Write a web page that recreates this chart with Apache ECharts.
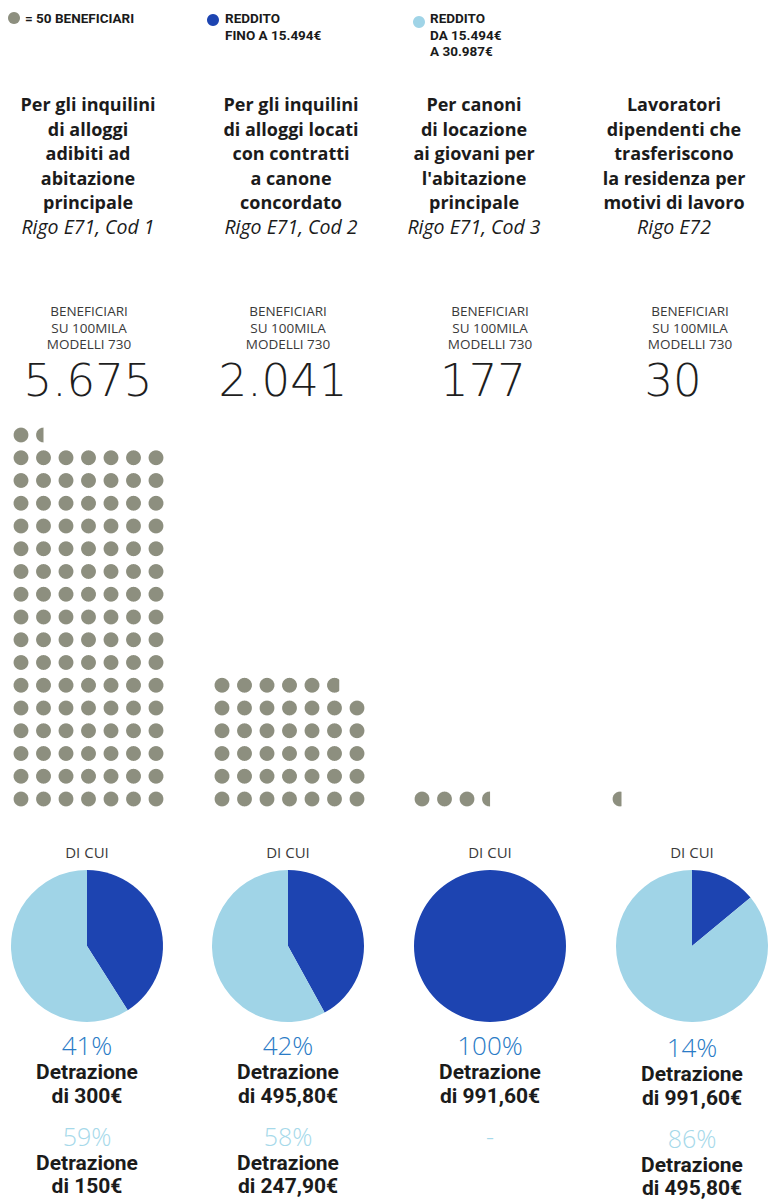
<!DOCTYPE html>
<html>
<head>
<meta charset="utf-8">
<script src="https://cdn.jsdelivr.net/npm/echarts@6/dist/echarts.min.js"></script>
<style>
html,body{margin:0;padding:0;background:#fff;}
#chart{width:770px;height:1199px;}
</style>
</head>
<body>
<div id="chart"></div>
<script>
// ---------------- DATA ----------------
const titleLines = [
  ['Per gli inquilini', 'di alloggi', 'adibiti ad', 'abitazione', 'principale'],
  ['Per gli inquilini', 'di alloggi locati', 'con contratti', 'a canone', 'concordato'],
  ['Per canoni', 'di locazione', 'ai giovani per', "l'abitazione", 'principale'],
  ['Lavoratori', 'dipendenti che', 'trasferiscono', 'la residenza per', 'motivi di lavoro']
];
const rigoLabels = ['Rigo E71, Cod 1', 'Rigo E71, Cod 2', 'Rigo E71, Cod 3', 'Rigo E72'];
const beneficiaries = [5675, 2041, 177, 30];
const beneficiariesText = ['5.675', '2.041', '177', '30'];
const lowIncomeShare = [41, 42, 100, 14];
const midIncomeShare = [59, 58, 0, 86];
const lowPctText = ['41%', '42%', '100%', '14%'];
const midPctText = ['59%', '58%', '-', '86%'];
const lowDeductionText = ['di 300€', 'di 495,80€', 'di 991,60€', 'di 991,60€'];
const midDeductionText = ['di 150€', 'di 247,90€', '', 'di 495,80€'];
const legendLabels = ['= 50 BENEFICIARI', 'REDDITO\nFINO A 15.494€', 'REDDITO\nDA 15.494€\nA 30.987€'];
const subLabel = ['BENEFICIARI', 'SU 100MILA', 'MODELLI 730'];
const UNIT = 50;      // beneficiaries per dot
const PER_ROW = 7;    // dots per row
const ROWS = 17;

// ---------------- STYLE / LAYOUT ----------------
const C_DOT = '#8d8f7f';
const C_DARK = '#1d44b1';
const C_LIGHT = '#a0d4e7';
const C_PCT_DARK = '#2a7bc6';
const C_PCT_LIGHT = '#a6d9ea';
const titleX = [88, 291, 474, 674];
const subX = [89, 288, 490, 690];
const numX = [88, 283, 483, 673];
const pieX = [87, 288, 490, 692];
const gridLeft = [9.75, 210.75, 410.75, 608.75];
const pieY = 946;
const bottomShift = [0, 0, 0, 2];

const chart = echarts.init(document.getElementById('chart'), null, {renderer: 'svg'});

const graphics = [];
function txt(x, y, text, font, fill, align) {
  graphics.push({type: 'text', x: x, y: y, silent: true,
    style: {text: text, font: font, fill: fill, textAlign: align || 'center', textVerticalAlign: 'middle'}});
}
// legend
graphics.push({type: 'circle', shape: {cx: 14, cy: 18, r: 6}, style: {fill: C_DOT}});
graphics.push({type: 'circle', shape: {cx: 213, cy: 20, r: 6}, style: {fill: C_DARK}});
graphics.push({type: 'circle', shape: {cx: 419, cy: 22, r: 6}, style: {fill: C_LIGHT}});
const legFont = 'bold 13.5px Roboto';
const legX = [25, 225, 430];
legendLabels.forEach((l, i) => {
  l.split('\n').forEach((line, j) => txt(legX[i], 18 + j * 16.5, line, legFont, '#1a1a1a', 'left'));
});

for (let c = 0; c < 4; c++) {
  titleLines[c].forEach((line, j) => txt(titleX[c], 104 + j * 24.5, line, 'bold 18px "Open Sans"', '#1b1b1b'));
  txt(titleX[c], 104 + 5 * 24.5, rigoLabels[c], 'italic 19.5px "Open Sans"', '#1b1b1b');
  subLabel.forEach((s, j) => txt(subX[c], 311 + j * 16.5, s, '13.5px "Open Sans"', '#3a3a3a'));
  txt(numX[c], 380, beneficiariesText[c], '300 45px "DejaVu Sans"', '#1e1e1e');
  txt(pieX[c], 852, 'DI CUI', '15px "Open Sans"', '#3a3a3a');
  const s = bottomShift[c];
  txt(pieX[c], 1045 + s, lowPctText[c], '300 26px "Open Sans"', C_PCT_DARK);
  txt(pieX[c], 1072 + s, 'Detrazione', 'bold 21px Roboto', '#1b1b1b');
  txt(pieX[c], 1096 + s, lowDeductionText[c], 'bold 21px Roboto', '#1b1b1b');
  txt(pieX[c], 1136 + s, midPctText[c], '300 25px "Open Sans"', C_PCT_LIGHT);
  if (midDeductionText[c]) {
    txt(pieX[c], 1163 + s, 'Detrazione', 'bold 21px Roboto', '#1b1b1b');
    txt(pieX[c], 1186 + s, midDeductionText[c], 'bold 21px Roboto', '#1b1b1b');
  }
}

// dot data built from beneficiaries
function dotData(value) {
  const n = value / UNIT;
  const full = Math.floor(n);
  const frac = n - full;
  const out = [];
  for (let k = 0; k < full; k++) out.push([k % PER_ROW, Math.floor(k / PER_ROW), 1]);
  if (frac > 0.001) out.push([full % PER_ROW, Math.floor(full / PER_ROW), frac]);
  return out;
}

function renderDot(params, api) {
  const p = api.coord([api.value(0), api.value(1)]);
  const r = 7.4;
  const frac = api.value(2);
  const clipX = p[0] - r + 2 * r * frac;
  const pts = [];
  for (let a = 0; a < 48; a++) {
    const t = a / 48 * Math.PI * 2;
    pts.push([Math.min(p[0] + r * Math.cos(t), clipX), p[1] + r * Math.sin(t)]);
  }
  return {type: 'polygon', shape: {points: pts}, style: {fill: C_DOT}};
}

const grids = [], xAxes = [], yAxes = [], series = [];
const rowH = 22.75;
const gridH = ROWS * rowH;
const gridTop = 799 + rowH / 2 - gridH;
for (let c = 0; c < 4; c++) {
  grids.push({left: gridLeft[c], top: gridTop, width: 157.5, height: gridH});
  xAxes.push({type: 'value', gridIndex: c, min: -0.5, max: PER_ROW - 0.5, show: false});
  yAxes.push({type: 'value', gridIndex: c, min: -0.5, max: ROWS - 0.5, show: false});
  series.push({type: 'custom', xAxisIndex: c, yAxisIndex: c, renderItem: renderDot,
    data: dotData(beneficiaries[c]), silent: true, clip: false});
  series.push({type: 'pie', center: [pieX[c], pieY], radius: 76, silent: true,
    startAngle: 90, clockwise: true, label: {show: false}, labelLine: {show: false},
    itemStyle: {borderWidth: 0},
    data: [
      {name: 'Reddito fino a 15.494€', value: lowIncomeShare[c], itemStyle: {color: C_DARK}},
      {name: 'Reddito da 15.494€ a 30.987€', value: midIncomeShare[c], itemStyle: {color: C_LIGHT}}
    ]});
}

chart.setOption({
  animation: false,
  backgroundColor: '#ffffff',
  grid: grids, xAxis: xAxes, yAxis: yAxes,
  series: series,
  graphic: graphics
});
</script>
</body>
</html>
